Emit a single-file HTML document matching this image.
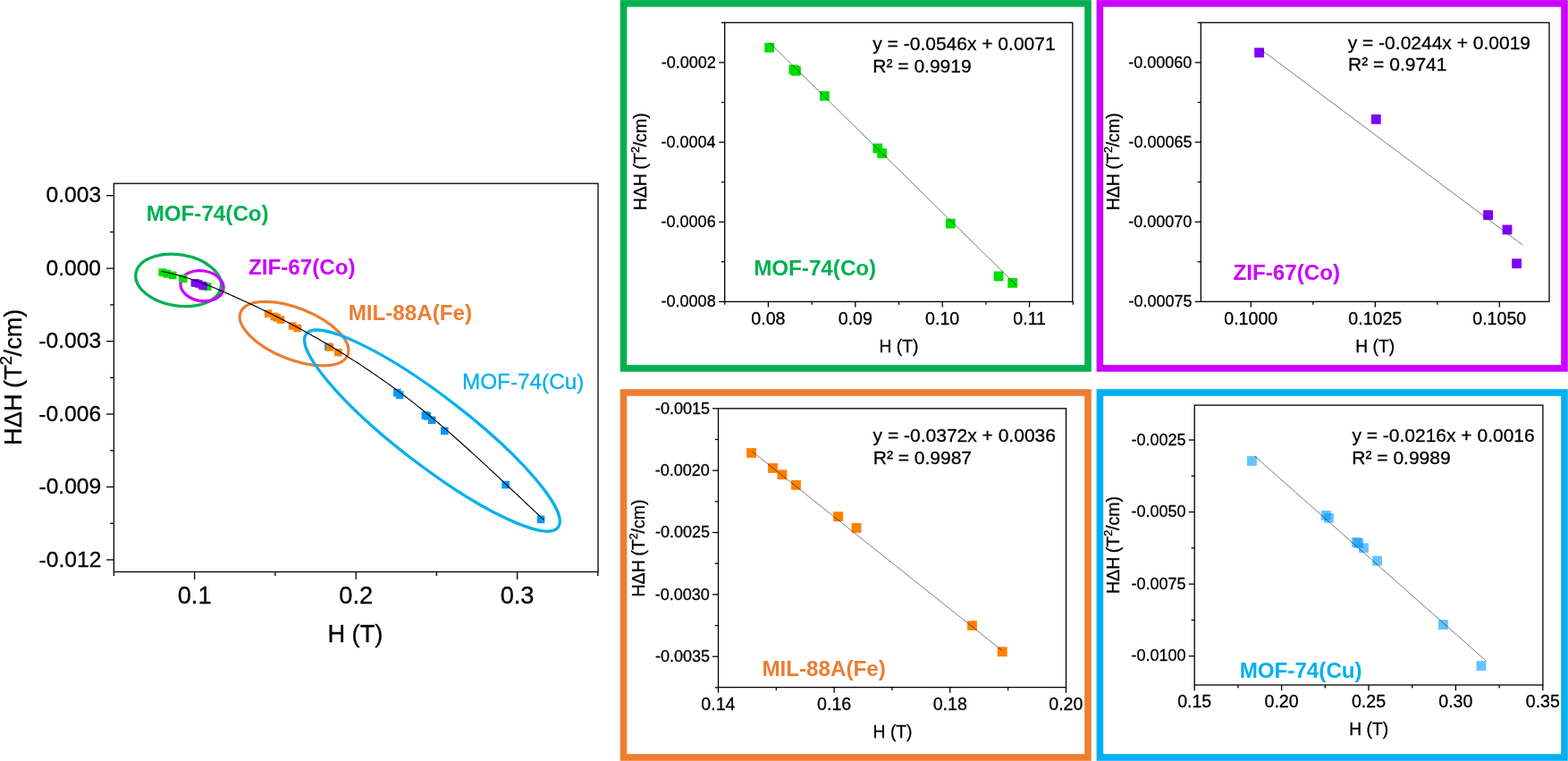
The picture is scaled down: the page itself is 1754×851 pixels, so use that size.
<!DOCTYPE html>
<html><head><meta charset="utf-8"><style>
html,body{margin:0;padding:0;background:#fff;}
body{width:1754px;height:851px;overflow:hidden;}
svg{display:block;}
</style></head><body>
<svg width="1754" height="851" viewBox="0 0 1754 851" font-family="Liberation Sans, Arial, sans-serif">
<rect width="1754" height="851" fill="#fff"/>
<rect x="697.50" y="3.90" width="519.50" height="408.00" fill="none" stroke="#00B050" stroke-width="7.6"/>
<rect x="1230.40" y="3.90" width="519.60" height="408.00" fill="none" stroke="#CC00FF" stroke-width="7.6"/>
<rect x="697.50" y="439.00" width="519.50" height="408.00" fill="none" stroke="#ED7D31" stroke-width="7.6"/>
<rect x="1230.40" y="439.00" width="519.60" height="408.00" fill="none" stroke="#00B0F0" stroke-width="7.6"/>
<rect x="127.35" y="205.20" width="541.65" height="434.30" fill="none" stroke="#000" stroke-width="1.3"/>
<line x1="217.60" y1="639.50" x2="217.60" y2="648.00" stroke="#000" stroke-width="1.3"/>
<line x1="398.10" y1="639.50" x2="398.10" y2="648.00" stroke="#000" stroke-width="1.3"/>
<line x1="578.60" y1="639.50" x2="578.60" y2="648.00" stroke="#000" stroke-width="1.3"/>
<line x1="127.35" y1="639.50" x2="127.35" y2="643.90" stroke="#000" stroke-width="1.3"/>
<line x1="307.85" y1="639.50" x2="307.85" y2="643.90" stroke="#000" stroke-width="1.3"/>
<line x1="488.35" y1="639.50" x2="488.35" y2="643.90" stroke="#000" stroke-width="1.3"/>
<line x1="668.85" y1="639.50" x2="668.85" y2="643.90" stroke="#000" stroke-width="1.3"/>
<text x="198.76" y="674.60" font-size="27.2" stroke="#000" stroke-width="0.3" fill="#000" >0.1</text>
<text x="379.33" y="674.60" font-size="27.2" stroke="#000" stroke-width="0.3" fill="#000" >0.2</text>
<text x="559.70" y="674.60" font-size="27.2" stroke="#000" stroke-width="0.3" fill="#000" >0.3</text>
<line x1="119.05" y1="218.70" x2="127.35" y2="218.70" stroke="#000" stroke-width="1.3"/>
<line x1="119.05" y1="300.16" x2="127.35" y2="300.16" stroke="#000" stroke-width="1.3"/>
<line x1="119.05" y1="381.62" x2="127.35" y2="381.62" stroke="#000" stroke-width="1.3"/>
<line x1="119.05" y1="463.08" x2="127.35" y2="463.08" stroke="#000" stroke-width="1.3"/>
<line x1="119.05" y1="544.54" x2="127.35" y2="544.54" stroke="#000" stroke-width="1.3"/>
<line x1="119.05" y1="626.00" x2="127.35" y2="626.00" stroke="#000" stroke-width="1.3"/>
<line x1="123.15" y1="259.43" x2="127.35" y2="259.43" stroke="#000" stroke-width="1.3"/>
<line x1="123.15" y1="340.89" x2="127.35" y2="340.89" stroke="#000" stroke-width="1.3"/>
<line x1="123.15" y1="422.35" x2="127.35" y2="422.35" stroke="#000" stroke-width="1.3"/>
<line x1="123.15" y1="503.81" x2="127.35" y2="503.81" stroke="#000" stroke-width="1.3"/>
<line x1="123.15" y1="585.27" x2="127.35" y2="585.27" stroke="#000" stroke-width="1.3"/>
<text x="51.58" y="226.20" font-size="24.6" stroke="#000" stroke-width="0.3" fill="#000" >0.003</text>
<text x="51.46" y="307.66" font-size="24.6" stroke="#000" stroke-width="0.3" fill="#000" >0.000</text>
<text x="43.34" y="389.12" font-size="24.6" stroke="#000" stroke-width="0.3" fill="#000" >-0.003</text>
<text x="43.34" y="470.58" font-size="24.6" stroke="#000" stroke-width="0.3" fill="#000" >-0.006</text>
<text x="43.47" y="552.04" font-size="24.6" stroke="#000" stroke-width="0.3" fill="#000" >-0.009</text>
<text x="43.59" y="633.50" font-size="24.6" stroke="#000" stroke-width="0.3" fill="#000" >-0.012</text>
<text x="366.42" y="717.60" font-size="27.2" stroke="#000" stroke-width="0.3" fill="#000" >H (T)</text>
<text transform="translate(23.85,497.88) rotate(-90)" x="0" y="0" font-size="27.2" fill="#000" stroke="#000" stroke-width="0.3">HΔH<tspan dx="-1.0"> (T</tspan><tspan font-size="18.50" dy="-10.95">2</tspan><tspan dx="-0.5" dy="10.95">/cm)</tspan></text>
<ellipse cx="199.60" cy="313.40" rx="48.25" ry="28.57" transform="rotate(9.18 199.60 313.40)" fill="none" stroke="#00B050" stroke-width="3.2"/>
<ellipse cx="226.00" cy="319.70" rx="24.30" ry="16.90" transform="rotate(9.20 226.00 319.70)" fill="none" stroke="#CC00FF" stroke-width="3.2"/>
<ellipse cx="329.00" cy="373.10" rx="64.47" ry="28.68" transform="rotate(21.75 329.00 373.10)" fill="none" stroke="#ED7D31" stroke-width="3.2"/>
<ellipse cx="483.40" cy="481.60" rx="177.60" ry="38.76" transform="rotate(37.52 483.40 481.60)" fill="none" stroke="#00B0F0" stroke-width="3.2"/>
<rect x="363.04" y="383.54" width="8.6" height="8.6" fill="#0099FF"/>
<rect x="439.94" y="434.86" width="8.6" height="8.6" fill="#0099FF"/>
<rect x="442.82" y="437.30" width="8.6" height="8.6" fill="#0099FF"/>
<rect x="471.54" y="460.13" width="8.6" height="8.6" fill="#0099FF"/>
<rect x="473.58" y="461.06" width="8.6" height="8.6" fill="#0099FF"/>
<rect x="478.86" y="465.53" width="8.6" height="8.6" fill="#0099FF"/>
<rect x="492.95" y="477.58" width="8.6" height="8.6" fill="#0099FF"/>
<rect x="561.33" y="537.82" width="8.6" height="8.6" fill="#0099FF"/>
<rect x="600.71" y="576.58" width="8.6" height="8.6" fill="#0099FF"/>
<rect x="177.44" y="300.27" width="8.6" height="8.6" fill="#00DD00"/>
<rect x="182.48" y="301.78" width="8.6" height="8.6" fill="#00DD00"/>
<rect x="182.94" y="301.86" width="8.6" height="8.6" fill="#00DD00"/>
<rect x="188.86" y="303.57" width="8.6" height="8.6" fill="#00DD00"/>
<rect x="199.88" y="307.14" width="8.6" height="8.6" fill="#00DD00"/>
<rect x="200.77" y="307.47" width="8.6" height="8.6" fill="#00DD00"/>
<rect x="214.99" y="312.26" width="8.6" height="8.6" fill="#00DD00"/>
<rect x="224.94" y="315.85" width="8.6" height="8.6" fill="#00DD00"/>
<rect x="227.85" y="316.31" width="8.6" height="8.6" fill="#00DD00"/>
<rect x="213.60" y="311.98" width="8.6" height="8.6" fill="#8000FF"/>
<rect x="217.84" y="313.12" width="8.6" height="8.6" fill="#8000FF"/>
<rect x="221.91" y="314.75" width="8.6" height="8.6" fill="#8000FF"/>
<rect x="222.61" y="315.00" width="8.6" height="8.6" fill="#8000FF"/>
<rect x="222.95" y="315.58" width="8.6" height="8.6" fill="#8000FF"/>
<rect x="295.80" y="346.32" width="8.6" height="8.6" fill="#FF8000"/>
<rect x="302.49" y="349.65" width="8.6" height="8.6" fill="#FF8000"/>
<rect x="305.38" y="351.08" width="8.6" height="8.6" fill="#FF8000"/>
<rect x="309.73" y="353.35" width="8.6" height="8.6" fill="#FF8000"/>
<rect x="322.84" y="360.24" width="8.6" height="8.6" fill="#FF8000"/>
<rect x="328.52" y="362.74" width="8.6" height="8.6" fill="#FF8000"/>
<rect x="364.59" y="384.10" width="8.6" height="8.6" fill="#FF8000"/>
<rect x="373.97" y="389.84" width="8.6" height="8.6" fill="#FF8000"/>
<polyline points="180.90,303.33 183.97,304.01 187.05,304.71 190.12,305.45 193.20,306.21 196.27,307.01 199.35,307.83 202.42,308.69 205.50,309.58 208.57,310.51 211.65,311.47 214.72,312.47 217.80,313.50 220.87,314.57 223.95,315.68 227.02,316.83 230.10,318.02 233.17,319.24 236.25,320.49 239.32,321.76 242.40,323.06 245.47,324.37 248.55,325.70 251.62,327.04 254.70,328.38 257.77,329.74 260.85,331.10 263.92,332.47 266.99,333.86 270.07,335.25 273.14,336.66 276.22,338.07 279.29,339.49 282.37,340.93 285.44,342.38 288.52,343.84 291.59,345.31 294.67,346.79 297.74,348.28 300.82,349.78 303.89,351.30 306.97,352.83 310.04,354.37 313.12,355.92 316.19,357.49 319.27,359.07 322.34,360.67 325.42,362.27 328.49,363.89 331.57,365.53 334.64,367.17 337.72,368.84 340.79,370.51 343.87,372.21 346.94,373.91 350.02,375.63 353.09,377.37 356.16,379.12 359.24,380.89 362.31,382.67 365.39,384.47 368.46,386.28 371.54,388.11 374.61,389.96 377.69,391.82 380.76,393.70 383.84,395.60 386.91,397.51 389.99,399.44 393.06,401.39 396.14,403.36 399.21,405.34 402.29,407.34 405.36,409.36 408.44,411.40 411.51,413.46 414.59,415.53 417.66,417.62 420.74,419.74 423.81,421.87 426.89,424.02 429.96,426.19 433.04,428.38 436.11,430.59 439.18,432.83 442.26,435.08 445.33,437.35 448.41,439.64 451.48,441.95 454.56,444.29 457.63,446.64 460.71,449.02 463.78,451.42 466.86,453.84 469.93,456.28 473.01,458.74 476.08,461.23 479.16,463.74 482.23,466.27 485.31,468.82 488.38,471.40 491.46,474.00 494.53,476.61 497.61,479.25 500.68,481.91 503.76,484.58 506.83,487.28 509.91,489.99 512.98,492.71 516.06,495.45 519.13,498.21 522.21,500.98 525.28,503.76 528.35,506.56 531.43,509.37 534.50,512.19 537.58,515.01 540.65,517.85 543.73,520.70 546.80,523.56 549.88,526.42 552.95,529.29 556.03,532.16 559.10,535.04 562.18,537.93 565.25,540.82 568.33,543.71 571.40,546.60 574.48,549.50 577.55,552.40 580.63,555.29 583.70,558.19 586.78,561.08 589.85,563.97 592.93,566.86 596.00,569.75 599.08,572.63 602.15,575.50 605.23,578.37 608.30,581.24" fill="none" stroke="#000" stroke-width="1.15" stroke-linejoin="round"/>
<text x="163.63" y="247.00" font-size="24.2" font-weight="bold" fill="#00B050" >MOF-74(Co)</text>
<text x="277.97" y="307.20" font-size="24.2" font-weight="bold" fill="#CC00FF" >ZIF-67(Co)</text>
<text x="389.63" y="358.30" font-size="24.2" font-weight="bold" fill="#ED7D31" >MIL-88A(Fe)</text>
<text x="516.96" y="434.70" font-size="24.3" stroke="#00B0F0" stroke-width="0.3" fill="#00B0F0" >MOF-74(Cu)</text>
<rect x="810.70" y="25.30" width="389.10" height="312.05" fill="none" stroke="#000" stroke-width="1.3"/>
<rect x="855.30" y="47.80" width="10.8" height="10.8" fill="#00DD00"/>
<rect x="882.50" y="72.50" width="10.8" height="10.8" fill="#00DD00"/>
<rect x="885.00" y="73.90" width="10.8" height="10.8" fill="#00DD00"/>
<rect x="916.90" y="101.90" width="10.8" height="10.8" fill="#00DD00"/>
<rect x="976.40" y="160.50" width="10.8" height="10.8" fill="#00DD00"/>
<rect x="981.20" y="166.00" width="10.8" height="10.8" fill="#00DD00"/>
<rect x="1057.90" y="244.60" width="10.8" height="10.8" fill="#00DD00"/>
<rect x="1111.60" y="303.50" width="10.8" height="10.8" fill="#00DD00"/>
<rect x="1127.30" y="311.00" width="10.8" height="10.8" fill="#00DD00"/>
<line x1="861.20" y1="48.10" x2="1136.70" y2="318.70" stroke="#000" stroke-width="0.52"/>
<line x1="859.40" y1="337.35" x2="859.40" y2="343.55" stroke="#000" stroke-width="1.3"/>
<line x1="956.80" y1="337.35" x2="956.80" y2="343.55" stroke="#000" stroke-width="1.3"/>
<line x1="1054.20" y1="337.35" x2="1054.20" y2="343.55" stroke="#000" stroke-width="1.3"/>
<line x1="1151.60" y1="337.35" x2="1151.60" y2="343.55" stroke="#000" stroke-width="1.3"/>
<line x1="810.70" y1="337.35" x2="810.70" y2="340.85" stroke="#000" stroke-width="1.3"/>
<line x1="908.10" y1="337.35" x2="908.10" y2="340.85" stroke="#000" stroke-width="1.3"/>
<line x1="1005.50" y1="337.35" x2="1005.50" y2="340.85" stroke="#000" stroke-width="1.3"/>
<line x1="1102.90" y1="337.35" x2="1102.90" y2="340.85" stroke="#000" stroke-width="1.3"/>
<line x1="1200.30" y1="337.35" x2="1200.30" y2="340.85" stroke="#000" stroke-width="1.3"/>
<text x="840.34" y="362.70" font-size="19.6" stroke="#000" stroke-width="0.3" fill="#000" >0.08</text>
<text x="937.79" y="362.70" font-size="19.6" stroke="#000" stroke-width="0.3" fill="#000" >0.09</text>
<text x="1035.09" y="362.70" font-size="19.6" stroke="#000" stroke-width="0.3" fill="#000" >0.10</text>
<text x="1133.32" y="362.70" font-size="19.6" stroke="#000" stroke-width="0.3" fill="#000" >0.11</text>
<line x1="804.20" y1="69.90" x2="810.70" y2="69.90" stroke="#000" stroke-width="1.3"/>
<line x1="804.20" y1="159.05" x2="810.70" y2="159.05" stroke="#000" stroke-width="1.3"/>
<line x1="804.20" y1="248.20" x2="810.70" y2="248.20" stroke="#000" stroke-width="1.3"/>
<line x1="804.20" y1="337.35" x2="810.70" y2="337.35" stroke="#000" stroke-width="1.3"/>
<line x1="807.00" y1="25.33" x2="810.70" y2="25.33" stroke="#000" stroke-width="1.3"/>
<line x1="807.00" y1="114.47" x2="810.70" y2="114.47" stroke="#000" stroke-width="1.3"/>
<line x1="807.00" y1="203.63" x2="810.70" y2="203.63" stroke="#000" stroke-width="1.3"/>
<line x1="807.00" y1="292.78" x2="810.70" y2="292.78" stroke="#000" stroke-width="1.3"/>
<text x="739.78" y="75.60" font-size="18.0" stroke="#000" stroke-width="0.3" fill="#000" >-0.0002</text>
<text x="739.42" y="164.75" font-size="18.0" stroke="#000" stroke-width="0.3" fill="#000" >-0.0004</text>
<text x="739.60" y="253.90" font-size="18.0" stroke="#000" stroke-width="0.3" fill="#000" >-0.0006</text>
<text x="739.60" y="343.05" font-size="18.0" stroke="#000" stroke-width="0.3" fill="#000" >-0.0008</text>
<text x="976.29" y="55.60" font-size="21.0" stroke="#000" stroke-width="0.3" fill="#000" >y = -0.0546x + 0.0071</text>
<text x="976.32" y="80.60" font-size="21.0" stroke="#000" stroke-width="0.3" fill="#000" >R² = 0.9919</text>
<text x="843.13" y="307.90" font-size="24.2" font-weight="bold" fill="#00B050" >MOF-74(Co)</text>
<text x="983.45" y="393.90" font-size="19.3" stroke="#000" stroke-width="0.3" fill="#000" >H (T)</text>
<text transform="translate(722.70,235.37) rotate(-90)" x="0" y="0" font-size="19.6" fill="#000" stroke="#000" stroke-width="0.3">HΔH<tspan dx="-1.0"> (T</tspan><tspan font-size="12.94" dy="-7.84">2</tspan><tspan dx="-0.5" dy="7.84">/cm)</tspan></text>
<rect x="1343.30" y="25.30" width="389.70" height="312.00" fill="none" stroke="#000" stroke-width="1.3"/>
<rect x="1403.20" y="53.45" width="10.8" height="10.8" fill="#8000FF"/>
<rect x="1533.90" y="128.00" width="10.8" height="10.8" fill="#8000FF"/>
<rect x="1659.20" y="235.10" width="10.8" height="10.8" fill="#8000FF"/>
<rect x="1680.60" y="251.50" width="10.8" height="10.8" fill="#8000FF"/>
<rect x="1691.20" y="289.30" width="10.8" height="10.8" fill="#8000FF"/>
<line x1="1409.80" y1="54.80" x2="1703.00" y2="273.80" stroke="#000" stroke-width="0.52"/>
<line x1="1399.30" y1="337.30" x2="1399.30" y2="343.50" stroke="#000" stroke-width="1.3"/>
<line x1="1538.30" y1="337.30" x2="1538.30" y2="343.50" stroke="#000" stroke-width="1.3"/>
<line x1="1677.30" y1="337.30" x2="1677.30" y2="343.50" stroke="#000" stroke-width="1.3"/>
<line x1="1468.80" y1="337.30" x2="1468.80" y2="340.80" stroke="#000" stroke-width="1.3"/>
<line x1="1607.80" y1="337.30" x2="1607.80" y2="340.80" stroke="#000" stroke-width="1.3"/>
<text x="1369.26" y="362.60" font-size="19.6" stroke="#000" stroke-width="0.3" fill="#000" >0.1000</text>
<text x="1508.31" y="362.60" font-size="19.6" stroke="#000" stroke-width="0.3" fill="#000" >0.1025</text>
<text x="1647.26" y="362.60" font-size="19.6" stroke="#000" stroke-width="0.3" fill="#000" >0.1050</text>
<line x1="1336.80" y1="69.90" x2="1343.30" y2="69.90" stroke="#000" stroke-width="1.3"/>
<line x1="1336.80" y1="159.03" x2="1343.30" y2="159.03" stroke="#000" stroke-width="1.3"/>
<line x1="1336.80" y1="248.17" x2="1343.30" y2="248.17" stroke="#000" stroke-width="1.3"/>
<line x1="1336.80" y1="337.30" x2="1343.30" y2="337.30" stroke="#000" stroke-width="1.3"/>
<line x1="1339.60" y1="25.33" x2="1343.30" y2="25.33" stroke="#000" stroke-width="1.3"/>
<line x1="1339.60" y1="114.47" x2="1343.30" y2="114.47" stroke="#000" stroke-width="1.3"/>
<line x1="1339.60" y1="203.60" x2="1343.30" y2="203.60" stroke="#000" stroke-width="1.3"/>
<line x1="1339.60" y1="292.73" x2="1343.30" y2="292.73" stroke="#000" stroke-width="1.3"/>
<text x="1262.32" y="75.60" font-size="18.0" stroke="#000" stroke-width="0.3" fill="#000" >-0.00060</text>
<text x="1262.41" y="164.73" font-size="18.0" stroke="#000" stroke-width="0.3" fill="#000" >-0.00065</text>
<text x="1262.32" y="253.87" font-size="18.0" stroke="#000" stroke-width="0.3" fill="#000" >-0.00070</text>
<text x="1262.41" y="343.00" font-size="18.0" stroke="#000" stroke-width="0.3" fill="#000" >-0.00075</text>
<text x="1507.69" y="54.90" font-size="21.0" stroke="#000" stroke-width="0.3" fill="#000" >y = -0.0244x + 0.0019</text>
<text x="1508.12" y="79.30" font-size="21.0" stroke="#000" stroke-width="0.3" fill="#000" >R² = 0.9741</text>
<text x="1379.47" y="312.70" font-size="24.2" font-weight="bold" fill="#CC00FF" >ZIF-67(Co)</text>
<text x="1516.30" y="393.70" font-size="19.3" stroke="#000" stroke-width="0.3" fill="#000" >H (T)</text>
<text transform="translate(1252.10,235.37) rotate(-90)" x="0" y="0" font-size="19.6" fill="#000" stroke="#000" stroke-width="0.3">HΔH<tspan dx="-1.0"> (T</tspan><tspan font-size="12.94" dy="-7.84">2</tspan><tspan dx="-0.5" dy="7.84">/cm)</tspan></text>
<rect x="803.50" y="456.80" width="389.00" height="311.80" fill="none" stroke="#000" stroke-width="1.3"/>
<rect x="835.10" y="501.10" width="10.8" height="10.8" fill="#FF8000"/>
<rect x="859.10" y="518.10" width="10.8" height="10.8" fill="#FF8000"/>
<rect x="869.50" y="525.40" width="10.8" height="10.8" fill="#FF8000"/>
<rect x="885.10" y="537.00" width="10.8" height="10.8" fill="#FF8000"/>
<rect x="932.20" y="572.20" width="10.8" height="10.8" fill="#FF8000"/>
<rect x="952.60" y="585.00" width="10.8" height="10.8" fill="#FF8000"/>
<rect x="1082.10" y="694.10" width="10.8" height="10.8" fill="#FF8000"/>
<rect x="1115.80" y="723.40" width="10.8" height="10.8" fill="#FF8000"/>
<line x1="841.00" y1="504.60" x2="1121.30" y2="727.70" stroke="#000" stroke-width="0.52"/>
<line x1="803.50" y1="768.60" x2="803.50" y2="774.80" stroke="#000" stroke-width="1.3"/>
<line x1="933.13" y1="768.60" x2="933.13" y2="774.80" stroke="#000" stroke-width="1.3"/>
<line x1="1062.77" y1="768.60" x2="1062.77" y2="774.80" stroke="#000" stroke-width="1.3"/>
<line x1="1192.40" y1="768.60" x2="1192.40" y2="774.80" stroke="#000" stroke-width="1.3"/>
<line x1="868.32" y1="768.60" x2="868.32" y2="772.10" stroke="#000" stroke-width="1.3"/>
<line x1="997.95" y1="768.60" x2="997.95" y2="772.10" stroke="#000" stroke-width="1.3"/>
<line x1="1127.58" y1="768.60" x2="1127.58" y2="772.10" stroke="#000" stroke-width="1.3"/>
<text x="784.34" y="793.90" font-size="19.6" stroke="#000" stroke-width="0.3" fill="#000" >0.14</text>
<text x="914.07" y="793.90" font-size="19.6" stroke="#000" stroke-width="0.3" fill="#000" >0.16</text>
<text x="1043.71" y="793.90" font-size="19.6" stroke="#000" stroke-width="0.3" fill="#000" >0.18</text>
<text x="1173.29" y="793.90" font-size="19.6" stroke="#000" stroke-width="0.3" fill="#000" >0.20</text>
<line x1="797.00" y1="456.80" x2="803.50" y2="456.80" stroke="#000" stroke-width="1.3"/>
<line x1="797.00" y1="526.15" x2="803.50" y2="526.15" stroke="#000" stroke-width="1.3"/>
<line x1="797.00" y1="595.50" x2="803.50" y2="595.50" stroke="#000" stroke-width="1.3"/>
<line x1="797.00" y1="664.85" x2="803.50" y2="664.85" stroke="#000" stroke-width="1.3"/>
<line x1="797.00" y1="734.20" x2="803.50" y2="734.20" stroke="#000" stroke-width="1.3"/>
<line x1="799.80" y1="491.48" x2="803.50" y2="491.48" stroke="#000" stroke-width="1.3"/>
<line x1="799.80" y1="560.83" x2="803.50" y2="560.83" stroke="#000" stroke-width="1.3"/>
<line x1="799.80" y1="630.17" x2="803.50" y2="630.17" stroke="#000" stroke-width="1.3"/>
<line x1="799.80" y1="699.52" x2="803.50" y2="699.52" stroke="#000" stroke-width="1.3"/>
<line x1="799.80" y1="768.88" x2="803.50" y2="768.88" stroke="#000" stroke-width="1.3"/>
<text x="732.90" y="462.50" font-size="18.0" stroke="#000" stroke-width="0.3" fill="#000" >-0.0015</text>
<text x="732.81" y="531.85" font-size="18.0" stroke="#000" stroke-width="0.3" fill="#000" >-0.0020</text>
<text x="732.90" y="601.20" font-size="18.0" stroke="#000" stroke-width="0.3" fill="#000" >-0.0025</text>
<text x="732.81" y="670.55" font-size="18.0" stroke="#000" stroke-width="0.3" fill="#000" >-0.0030</text>
<text x="732.90" y="739.90" font-size="18.0" stroke="#000" stroke-width="0.3" fill="#000" >-0.0035</text>
<text x="976.60" y="494.20" font-size="21.0" stroke="#000" stroke-width="0.3" fill="#000" >y = -0.0372x + 0.0036</text>
<text x="976.72" y="518.70" font-size="21.0" stroke="#000" stroke-width="0.3" fill="#000" >R² = 0.9987</text>
<text x="852.43" y="755.60" font-size="24.2" font-weight="bold" fill="#ED7D31" >MIL-88A(Fe)</text>
<text x="976.60" y="824.90" font-size="19.3" stroke="#000" stroke-width="0.3" fill="#000" >H (T)</text>
<text transform="translate(720.60,667.57) rotate(-90)" x="0" y="0" font-size="19.6" fill="#000" stroke="#000" stroke-width="0.3">HΔH<tspan dx="-1.0"> (T</tspan><tspan font-size="12.94" dy="-7.84">2</tspan><tspan dx="-0.5" dy="7.84">/cm)</tspan></text>
<rect x="1336.20" y="453.10" width="389.70" height="312.90" fill="none" stroke="#000" stroke-width="1.3"/>
<rect x="1395.00" y="510.10" width="10.8" height="10.8" fill="#0099FF" fill-opacity="0.6"/>
<rect x="1478.00" y="571.00" width="10.8" height="10.8" fill="#0099FF" fill-opacity="0.6"/>
<rect x="1481.10" y="573.90" width="10.8" height="10.8" fill="#0099FF" fill-opacity="0.6"/>
<rect x="1512.10" y="601.00" width="10.8" height="10.8" fill="#0099FF" fill-opacity="0.6"/>
<rect x="1514.30" y="602.10" width="10.8" height="10.8" fill="#0099FF" fill-opacity="0.6"/>
<rect x="1520.00" y="607.40" width="10.8" height="10.8" fill="#0099FF" fill-opacity="0.6"/>
<rect x="1535.20" y="621.70" width="10.8" height="10.8" fill="#0099FF" fill-opacity="0.6"/>
<rect x="1609.00" y="693.20" width="10.8" height="10.8" fill="#0099FF" fill-opacity="0.6"/>
<rect x="1651.50" y="739.20" width="10.8" height="10.8" fill="#0099FF" fill-opacity="0.6"/>
<line x1="1403.30" y1="509.90" x2="1662.50" y2="739.20" stroke="#000" stroke-width="0.52"/>
<line x1="1336.20" y1="766.00" x2="1336.20" y2="772.20" stroke="#000" stroke-width="1.3"/>
<line x1="1433.60" y1="766.00" x2="1433.60" y2="772.20" stroke="#000" stroke-width="1.3"/>
<line x1="1531.00" y1="766.00" x2="1531.00" y2="772.20" stroke="#000" stroke-width="1.3"/>
<line x1="1628.40" y1="766.00" x2="1628.40" y2="772.20" stroke="#000" stroke-width="1.3"/>
<line x1="1725.80" y1="766.00" x2="1725.80" y2="772.20" stroke="#000" stroke-width="1.3"/>
<line x1="1384.90" y1="766.00" x2="1384.90" y2="769.50" stroke="#000" stroke-width="1.3"/>
<line x1="1482.30" y1="766.00" x2="1482.30" y2="769.50" stroke="#000" stroke-width="1.3"/>
<line x1="1579.70" y1="766.00" x2="1579.70" y2="769.50" stroke="#000" stroke-width="1.3"/>
<line x1="1677.10" y1="766.00" x2="1677.10" y2="769.50" stroke="#000" stroke-width="1.3"/>
<text x="1317.14" y="790.60" font-size="19.6" stroke="#000" stroke-width="0.3" fill="#000" >0.15</text>
<text x="1414.49" y="790.60" font-size="19.6" stroke="#000" stroke-width="0.3" fill="#000" >0.20</text>
<text x="1511.94" y="790.60" font-size="19.6" stroke="#000" stroke-width="0.3" fill="#000" >0.25</text>
<text x="1609.29" y="790.60" font-size="19.6" stroke="#000" stroke-width="0.3" fill="#000" >0.30</text>
<text x="1706.74" y="790.60" font-size="19.6" stroke="#000" stroke-width="0.3" fill="#000" >0.35</text>
<line x1="1329.70" y1="492.00" x2="1336.20" y2="492.00" stroke="#000" stroke-width="1.3"/>
<line x1="1329.70" y1="572.57" x2="1336.20" y2="572.57" stroke="#000" stroke-width="1.3"/>
<line x1="1329.70" y1="653.13" x2="1336.20" y2="653.13" stroke="#000" stroke-width="1.3"/>
<line x1="1329.70" y1="733.70" x2="1336.20" y2="733.70" stroke="#000" stroke-width="1.3"/>
<line x1="1332.50" y1="532.28" x2="1336.20" y2="532.28" stroke="#000" stroke-width="1.3"/>
<line x1="1332.50" y1="612.85" x2="1336.20" y2="612.85" stroke="#000" stroke-width="1.3"/>
<line x1="1332.50" y1="693.42" x2="1336.20" y2="693.42" stroke="#000" stroke-width="1.3"/>
<text x="1265.50" y="497.70" font-size="18.0" stroke="#000" stroke-width="0.3" fill="#000" >-0.0025</text>
<text x="1265.41" y="578.27" font-size="18.0" stroke="#000" stroke-width="0.3" fill="#000" >-0.0050</text>
<text x="1265.50" y="658.83" font-size="18.0" stroke="#000" stroke-width="0.3" fill="#000" >-0.0075</text>
<text x="1265.41" y="739.40" font-size="18.0" stroke="#000" stroke-width="0.3" fill="#000" >-0.0100</text>
<text x="1512.39" y="494.20" font-size="21.0" stroke="#000" stroke-width="0.3" fill="#000" >y = -0.0216x + 0.0016</text>
<text x="1512.32" y="518.60" font-size="21.0" stroke="#000" stroke-width="0.3" fill="#000" >R² = 0.9989</text>
<text x="1386.63" y="757.50" font-size="24.2" font-weight="bold" fill="#00B0F0" >MOF-74(Cu)</text>
<text x="1509.20" y="821.70" font-size="19.3" stroke="#000" stroke-width="0.3" fill="#000" >H (T)</text>
<text transform="translate(1252.10,664.07) rotate(-90)" x="0" y="0" font-size="19.6" fill="#000" stroke="#000" stroke-width="0.3">HΔH<tspan dx="-1.0"> (T</tspan><tspan font-size="12.94" dy="-7.84">2</tspan><tspan dx="-0.5" dy="7.84">/cm)</tspan></text>
</svg>
</body></html>
